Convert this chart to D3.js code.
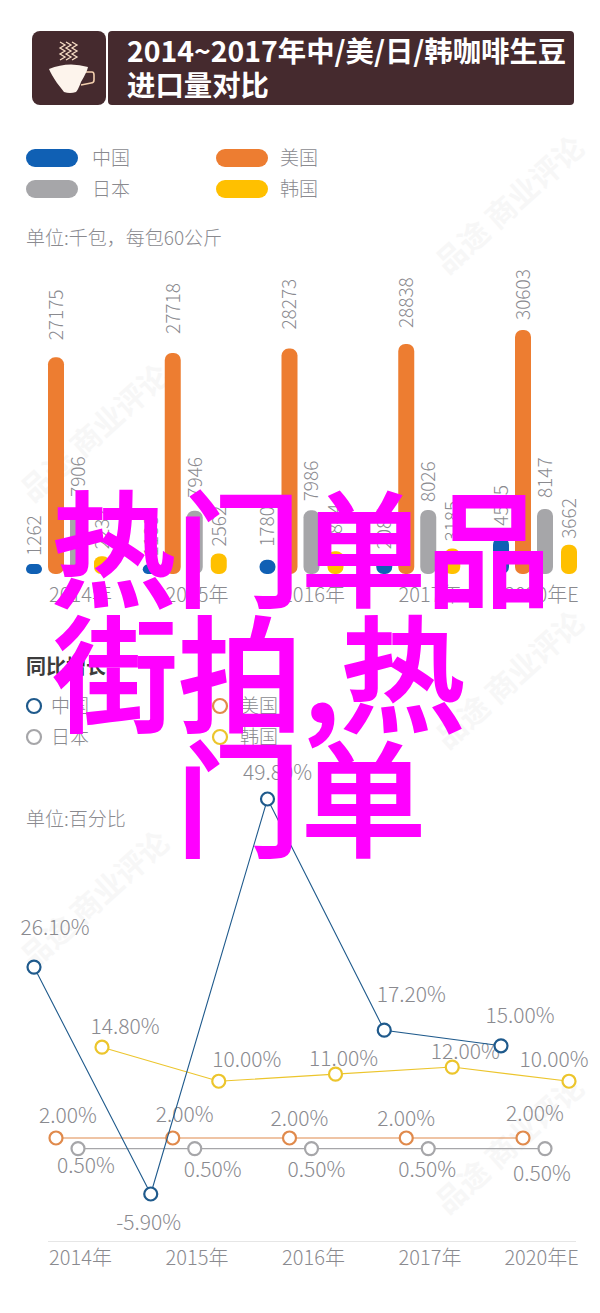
<!DOCTYPE html>
<html>
<head>
<meta charset="utf-8">
<script src="https://cdnjs.cloudflare.com/ajax/libs/d3/7.8.5/d3.min.js"></script>
<style>
  html, body { margin: 0; padding: 0; background: #fff; }
  svg { display: block; }
  text { font-family: "Noto Sans CJK SC", "Noto Sans", sans-serif; }
  .tick text { fill: #8a8a8f; font-size: 20px; font-weight: 300; }
</style>
</head>
<body>
<svg id="chart" width="600" height="1313"></svg>
<script>
var years = ['2014年', '2015年', '2016年', '2017年', '2020年E'];
var seriesNames = ['中国', '美国', '日本', '韩国'];

// import volume, thousand bags of 60kg
var chinaBags = [1262, 1188, 1780, 2087, 4545];
var usaBags = [27175, 27718, 28273, 28838, 30603];
var japanBags = [7906, 7946, 7986, 8026, 8147];
var koreaBags = [2232, 2562, 2844, 3185, 3662];

// growth, percent
var chinaGrowth = [26.1, -5.9, 49.8, 17.2, 15];
var usaGrowth = [2, 2, 2, 2, 2];
var japanGrowth = [0.5, 0.5, 0.5, 0.5, 0.5];
var koreaGrowth = [14.8, 10, 11, 12, 10];

var colors = { '中国': '#1060b4', '美国': '#ed7d31', '日本': '#a6a6a9', '韩国': '#ffc000' };
var lineColors = { '中国': '#1f5a8c', '美国': '#e08a4c', '日本': '#a6a6a9', '韩国': '#ecc52c' };

var bags = { '中国': chinaBags, '美国': usaBags, '日本': japanBags, '韩国': koreaBags };
var growth = { '中国': chinaGrowth, '美国': usaGrowth, '日本': japanGrowth, '韩国': koreaGrowth };

// label nudges by hand, the original labels are not placed regularly
var barGap = {
  '中国': [8, 8, 13, 8, 12],
  '美国': [17, 19, 19, 16, 10],
  '日本': [14, 13, 9, 8, 11],
  '韩国': [7, 7, 7, 7, 6]
};
var labelNudge = {
  '中国': [[21, -39], [-2, 29], [10, -26], [27, -36], [19, -30]],
  '美国': [[12, -22], [12, -23], [10, -19], [0, -19], [12, -24]],
  '日本': [[8, 17], [18, 21], [5, 21], [-1, 21], [-3, 25]],
  '韩国': [[23, -21], [28, -22], [8, -16], [13, -15], [-15, -22]]
};

var svg = d3.select('#chart');
var grey = '#8a8a8f';

// watermark
var spots = [[95, 433], [95, 900], [510, 205], [510, 680], [510, 1145]];
svg.append('g').selectAll('text').data(spots).enter().append('text')
  .attr('transform', function(d) { return 'translate(' + d[0] + ',' + d[1] + ') rotate(-42)'; })
  .attr('text-anchor', 'middle')
  .attr('dy', '0.35em')
  .attr('font-size', 30)
  .attr('font-weight', 700)
  .attr('fill', '#f7f7f7')
  .text('品途 商业评论');

// header
svg.append('rect').attr('x', 32).attr('y', 31).attr('width', 74).attr('height', 74).attr('rx', 8).attr('fill', '#452a2e');
svg.append('rect').attr('x', 108).attr('y', 31).attr('width', 466).attr('height', 74).attr('rx', 4).attr('fill', '#452a2e');

var icon = svg.append('g');
icon.selectAll('path.steam').data([60, 66, 72]).enter().append('path')
  .attr('class', 'steam')
  .attr('fill', 'none').attr('stroke', '#f6dcc4').attr('stroke-width', 1.3)
  .attr('d', function(x) {
    return 'M' + x + ',42 l5,3 l-5,3 l5,3 l-5,3 l5,3 l-5,3';
  });
icon.append('path')
  .attr('fill', 'none').attr('stroke', '#f3cfae').attr('stroke-width', 1.6)
  .attr('d', 'M86,72 L92,72 Q94,72 94,75 L94,80 Q94,83 91,83 L81,85');
icon.append('path')
  .attr('fill', '#fdf4ec')
  .attr('d', 'M49,69 Q68,61 88,67 Q87,72 81,82 Q78,90 76,92 Q70,94 64,92 Q61,88 57,83 Q51,74 49,69 Z');

svg.selectAll('text.title').data(['2014~2017年中/美/日/韩咖啡生豆', '进口量对比']).enter().append('text')
  .attr('class', 'title')
  .attr('x', 127)
  .attr('y', function(d, i) { return 62 + i * 34; })
  .attr('font-size', 28.4)
  .attr('font-weight', 700)
  .attr('fill', '#fff')
  .text(function(d) { return d; });

// legends
var legendX = d3.scalePoint().domain([0, 1]).range([26, 216]);
var legendCells = [['中国', 0, 0], ['美国', 1, 0], ['日本', 0, 1], ['韩国', 1, 1]];

var legend1 = svg.append('g').selectAll('g').data(legendCells).enter().append('g')
  .attr('transform', function(d) { return 'translate(' + legendX(d[1]) + ',' + (158 + d[2] * 31) + ')'; });
legend1.append('rect')
  .attr('y', -9).attr('width', 52).attr('height', 18).attr('rx', 9)
  .attr('fill', function(d) { return colors[d[0]]; });
legend1.append('text')
  .attr('x', function(d) { return d[1] ? 64 : 66; })
  .attr('dy', '0.35em').attr('font-size', 19).attr('font-weight', 300).attr('fill', grey)
  .text(function(d) { return d[0]; });

svg.append('text').attr('x', 26).attr('y', 238).attr('dy', '0.35em')
  .attr('font-size', 19).attr('font-weight', 300).attr('fill', grey)
  .text('单位:千包，每包60公斤');

svg.append('text').attr('x', 26).attr('y', 667).attr('dy', '0.35em')
  .attr('font-size', 20).attr('font-weight', 700).attr('fill', '#3c3c3c')
  .text('同比增长');

var legendX2 = d3.scalePoint().domain([0, 1]).range([34, 220]);
var legend2 = svg.append('g').selectAll('g').data(legendCells).enter().append('g')
  .attr('transform', function(d) { return 'translate(' + legendX2(d[1]) + ',' + (706 + d[2] * 31) + ')'; });
legend2.append('circle')
  .attr('r', 7).attr('fill', '#fff').attr('stroke-width', 2.2)
  .attr('stroke', function(d) { return lineColors[d[0]]; });
legend2.append('text')
  .attr('x', function(d) { return d[1] ? 20 : 17; })
  .attr('dy', '0.35em').attr('font-size', 19).attr('font-weight', 300).attr('fill', grey)
  .text(function(d) { return d[0]; });

svg.append('text').attr('x', 26).attr('y', 819).attr('dy', '0.35em')
  .attr('font-size', 19).attr('font-weight', 300).attr('fill', grey)
  .text('单位:百分比');

// shared x: one group per year, four series inside a group
var x0 = d3.scalePoint().domain(years).range([34, 501]);
var x1 = d3.scaleOrdinal().domain(seriesNames).range([0, 22, 44, 68]);
var xLabels = d3.scalePoint().domain(years).range([80, 546]);

// bars
var yBars = d3.scaleLinear().domain([0, 30603]).range([574, 330]);
var barWidth = 16;

seriesNames.forEach(function(name) {
  var g = svg.append('g');
  g.selectAll('rect').data(bags[name]).enter().append('rect')
    .attr('x', function(d, i) { return x0(years[i]) + x1(name) - barWidth / 2; })
    .attr('y', function(d) { return yBars(d); })
    .attr('width', barWidth)
    .attr('height', function(d) { return yBars(0) - yBars(d); })
    .attr('rx', function(d) { return Math.min(7, (yBars(0) - yBars(d)) / 2); })
    .attr('fill', colors[name]);
  g.selectAll('text').data(bags[name]).enter().append('text')
    .attr('transform', function(d, i) {
      return 'translate(' + (x0(years[i]) + x1(name)) + ',' + (yBars(d) - barGap[name][i]) + ') rotate(-90)';
    })
    .attr('dy', '0.36em')
    .attr('font-size', 19).attr('font-weight', 300).attr('fill', grey)
    .text(function(d) { return d; });
});

function bottomAxis(y) {
  var g = svg.append('g')
    .attr('transform', 'translate(0,' + y + ')')
    .call(d3.axisBottom(xLabels).tickSize(0).tickPadding(0));
  g.select('.domain').remove();
  g.selectAll('.tick text')
    .attr('dy', '0.35em').attr('y', 0)
    .attr('dx', function(d, i) { return i === 4 ? -5 : 0; });
}
bottomAxis(595);

// lines
var yLine = d3.scaleLinear().domain([-5.9, 49.8]).range([1194, 799]);
var line = d3.line()
  .x(function(d) { return d.x; })
  .y(function(d) { return yLine(d.v); });

svg.append('line').attr('x1', 48).attr('x2', 576).attr('y1', 1241.5).attr('y2', 1241.5)
  .attr('stroke', '#e6e6e6');
bottomAxis(1258);

['韩国', '美国', '日本', '中国'].forEach(function(name) {
  var pts = growth[name].map(function(v, i) { return { x: x0(years[i]) + x1(name), v: v }; });
  var g = svg.append('g');
  g.append('path').attr('d', line(pts)).attr('fill', 'none')
    .attr('stroke', lineColors[name]).attr('stroke-width', 1.1);
  g.selectAll('circle').data(pts).enter().append('circle')
    .attr('cx', function(d) { return d.x; })
    .attr('cy', function(d) { return yLine(d.v); })
    .attr('r', 6.5)
    .attr('fill', '#fff').attr('stroke', lineColors[name]).attr('stroke-width', 2.2);
  g.selectAll('text').data(pts).enter().append('text')
    .attr('x', function(d, i) { return d.x + labelNudge[name][i][0]; })
    .attr('y', function(d, i) { return yLine(d.v) + labelNudge[name][i][1]; })
    .attr('dy', '0.35em').attr('text-anchor', 'middle')
    .attr('font-size', 21).attr('font-weight', 300).attr('fill', grey)
    .text(function(d) { return d.v.toFixed(2) + '%'; });
});

// big magenta caption laid over the chart
var caption = ['热门单品', '街拍,热', '门单'];
var captionX = [301, 259, 301];
svg.append('g').selectAll('text').data(caption).enter().append('text')
  .attr('x', function(d, i) { return captionX[i]; })
  .attr('y', function(d, i) { return 597 + i * 125; })
  .attr('text-anchor', 'middle')
  .attr('font-size', 125)
  .attr('font-weight', 500)
  .attr('fill', '#ff00ff')
  .attr('stroke', '#ff00ff')
  .attr('stroke-width', 2)
  .text(function(d) { return d; });
</script>
</body>
</html>
